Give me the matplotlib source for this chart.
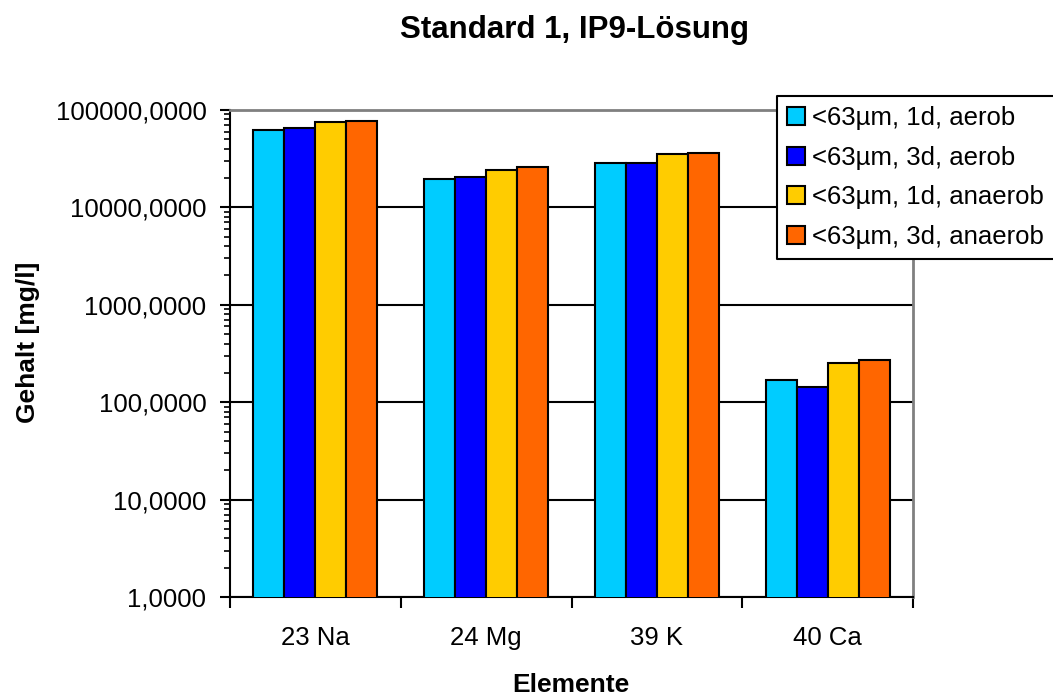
import matplotlib
matplotlib.use("Agg")
import matplotlib.pyplot as plt
import numpy as np
from matplotlib.lines import Line2D
from matplotlib.ticker import FixedLocator, FuncFormatter, LogLocator, NullFormatter

plt.rcParams['font.family'] = ['Liberation Sans', 'DejaVu Sans']

categories = ["23 Na", "24 Mg", "39 K", "40 Ca"]
series_names = ["<63µm, 1d, aerob", "<63µm, 3d, aerob",
                "<63µm, 1d, anaerob", "<63µm, 3d, anaerob"]
aerob_1d = [62400, 19700, 28800, 171]
aerob_3d = [64900, 20500, 28900, 142]
anaerob_1d = [74700, 24000, 35000, 250]
anaerob_3d = [77600, 25900, 36500, 270]
series_values = [aerob_1d, aerob_3d, anaerob_1d, anaerob_3d]
colors = ["#00CCFF", "#0000FF", "#FFCC00", "#FF6600"]

fig = plt.figure(figsize=(10.53, 6.95), dpi=100)
ax = fig.add_axes([230 / 1053, 1 - 597 / 695, 683 / 1053, 487 / 695])

n = len(series_values)
bar_w = 1 / (n + 1.5)
x = np.arange(len(categories))
handles = []
for i, (vals, col, name) in enumerate(zip(series_values, colors, series_names)):
    offs = (i - (n - 1) / 2) * bar_w
    b = ax.bar(x + offs, vals, width=bar_w, color=col, edgecolor="black",
               linewidth=1.5, label=name, zorder=3)
    handles.append(b)

ax.set_yscale("log")
ax.set_ylim(1, 100000)
ax.set_xlim(-0.5, len(categories) - 0.5)

ax.yaxis.set_major_locator(FixedLocator([1, 10, 100, 1000, 10000, 100000]))
ax.yaxis.set_major_formatter(FuncFormatter(lambda v, p: f"{v:.4f}".replace(".", ",")))
ax.yaxis.set_minor_locator(LogLocator(base=10, subs=np.arange(2, 10)))
ax.yaxis.set_minor_formatter(NullFormatter())
ax.tick_params(axis="y", which="major", direction="out", length=7, width=1.5,
               labelsize=18.5, pad=10)
ax.tick_params(axis="y", which="minor", direction="out", length=4, width=1.2)

ax.set_xticks(x)
ax.set_xticklabels(categories)
ax.set_xticks(np.arange(-0.5, len(categories)), minor=True)
ax.tick_params(axis="x", which="major", length=0, labelsize=18.5, pad=21)
ax.tick_params(axis="x", which="minor", direction="out", length=8, width=1.5)

ax.grid(axis="y", which="major", color="black", linewidth=1.5, zorder=0)
ax.set_axisbelow(True)

for side in ("top", "right"):
    ax.spines[side].set_color("#808080")
    ax.spines[side].set_linewidth(2)
for side in ("left", "bottom"):
    ax.spines[side].set_color("black")
    ax.spines[side].set_linewidth(1.5)

fig.text(28 / 1053, 1 - 342 / 695, "Gehalt [mg/l]", fontsize=19,
         fontweight="bold", rotation=90, ha="center", va="center")
fig.text(571 / 1053, 1 - 685 / 695, "Elemente", fontsize=19,
         fontweight="bold", ha="center", va="center")
fig.text(575 / 1053, 1 - 30 / 695, "Standard 1, IP9-Lösung", fontsize=22.5,
         fontweight="bold", ha="center", va="center")

# legend box runs past the right edge of the figure
leg = fig.legend(handles=handles, labels=series_names, loc="upper left",
                 bbox_to_anchor=(777 / 1053, 1 - 96 / 695, 420 / 1053, 0),
                 mode="expand", fontsize=18.5,
                 frameon=True, fancybox=False, framealpha=1,
                 facecolor="white", edgecolor="none",
                 handlelength=0.68, handleheight=0.7, handletextpad=0.3,
                 labelspacing=0.6, borderpad=0.4, borderaxespad=0)

# open border (left, top, bottom) ending at the figure's right side
fig.canvas.draw()
bb = leg.get_frame().get_window_extent().transformed(fig.transFigure.inverted())
fig.add_artist(Line2D([1.0, bb.x0, bb.x0, 1.0], [bb.y1, bb.y1, bb.y0, bb.y0],
                      transform=fig.transFigure, color="black", linewidth=1.5,
                      zorder=10))

fig.savefig("out.png", dpi=100)
